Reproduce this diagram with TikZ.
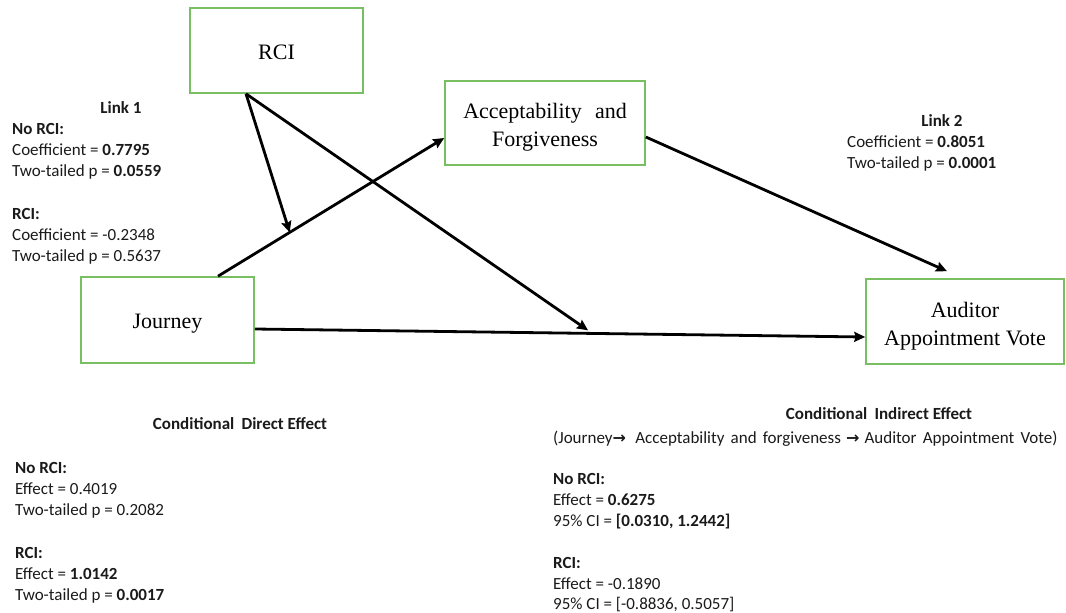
\documentclass[tikz,border=0pt]{standalone}
\usepackage{fontspec}
\setmainfont{Liberation Serif}
\newfontfamily\calib{Carlito}
\newfontfamily\symf{DejaVu Sans}
\usetikzlibrary{arrows.meta,calc}
\definecolor{boxgreen}{HTML}{78BE63}
\definecolor{inktext}{HTML}{1A1A1A}

\newcommand{\rarr}{{\symf\bfseries\fontsize{16}{21}\selectfont →}}

\begin{document}
\begin{tikzpicture}[x=1pt,y=-1pt,
  varbox/.style={draw=boxgreen,line width=1.6pt,rectangle,inner sep=0pt},
  boxtext/.style={align=center,inner sep=0pt,font=\fontsize{22}{28}\selectfont,text=black},
  conn/.style={line width=2.8pt,-{Stealth[length=11pt,width=10pt,inset=1.5pt]}},
  note/.style={font=\calib\fontsize{17}{21}\selectfont,inner sep=0pt,
    anchor=base west,text=inktext},
  notec/.style={note,anchor=base}]

\useasboundingbox (0,0) rectangle (1066,613);

% variable boxes
\node[varbox,minimum width=173pt,minimum height=85pt] (rci) at (276.5,50.5) {};
\node[varbox,minimum width=200pt,minimum height=84pt] (acc) at (545,123) {};
\node[varbox,minimum width=173pt,minimum height=86pt] (jour) at (167.5,320) {};
\node[varbox,minimum width=198pt,minimum height=85pt] (aud) at (965,321.5) {};

% variable names
\node[boxtext] (rcit) at ([yshift=-2pt]rci.center) {RCI};
\node[boxtext] (acct) at ([yshift=-4pt]acc.center) {Acceptability\hspace{0.35em} and\\Forgiveness};
\node[boxtext] (jourt) at ([yshift=-4pt]jour.center) {Journey};
\node[boxtext] (audt) at ([yshift=-5pt]aud.center) {Auditor\\Appointment Vote};

% connector end points
\coordinate (jtop)   at ([xshift=50.5pt]jour.north);
\coordinate (accin)  at ([yshift=-15pt]acc.west);
\coordinate (rcib)   at ([xshift=-30.5pt]rci.south);
\coordinate (jout)   at ([yshift=-9pt]jour.east);
\coordinate (audin)  at ([yshift=-15.5pt]aud.west);
\coordinate (accout) at ([yshift=-14pt]acc.east);
\coordinate (audtop) at ([xshift=-18pt,yshift=7pt]aud.north);
\coordinate (mod1)   at ($(jtop)!0.317!(accin)$);
\coordinate (mod2)   at ($(jout)!0.546!(audin)$);

% paths
\draw[conn] (jtop) -- (accin);
\draw[conn] (rcib) -- (mod1);
\draw[conn] (rcib) -- ([yshift=3pt]mod2);
\draw[conn] (jout) -- (audin);
\draw[conn] (accout) -- (audtop);

% Link 1
\node[notec] (l1t) at (121,113) {\bfseries Link 1};
\node[note] (l1a) at (12,134) {\bfseries No RCI:};
\node[note] (l1b) at (12,155) {Coefficient = \textbf{0.7795}};
\node[note] (l1c) at (12,176) {Two-tailed p = \textbf{0.0559}};
\node[note] (l1d) at (12,219) {\bfseries RCI:};
\node[note] (l1e) at (12,240) {Coefficient = -0.2348};
\node[note] (l1f) at (12,261) {Two-tailed p = 0.5637};

% Link 2
\node[notec] (l2t) at (942,126) {\bfseries Link 2};
\node[note] (l2a) at (847,147) {Coefficient = \textbf{0.8051}};
\node[note] (l2b) at (847,168) {Two-tailed p = \textbf{0.0001}};

% conditional direct effect
\node[notec] (dt) at (240,429) {\bfseries Conditional\hspace{0.2em} Direct Effect};
\node[note] (da) at (15,473) {\bfseries No RCI:};
\node[note] (db) at (15,494) {Effect = 0.4019};
\node[note] (dc) at (15,515) {Two-tailed p = 0.2082};
\node[note] (dd) at (15,558) {\bfseries RCI:};
\node[note] (de) at (15,579) {Effect = \textbf{1.0142}};
\node[note] (df) at (15,600) {Two-tailed p = \textbf{0.0017}};

% conditional indirect effect
\node[notec] (it) at (879,419) {\bfseries Conditional\hspace{0.2em} Indirect Effect};
\node[note] (ip) at (553,443) {\spaceskip=6.2pt (Journey\rarr\hspace{0.55em}Acceptability and forgiveness\hspace{0.3em}\rarr\hspace{0.3em}Auditor Appointment Vote)};
\node[note] (ia) at (553,484) {\bfseries No RCI:};
\node[note] (ib) at (553,505) {Effect = \textbf{0.6275}};
\node[note] (ic) at (553,526) {95\% CI = \textbf{[0.0310, 1.2442]}};
\node[note] (id) at (553,568) {\bfseries RCI:};
\node[note] (ie) at (553,589) {Effect = -0.1890};
\node[note] (if) at (553,609) {95\% CI = [-0.8836, 0.5057]};
\end{tikzpicture}
\end{document}
